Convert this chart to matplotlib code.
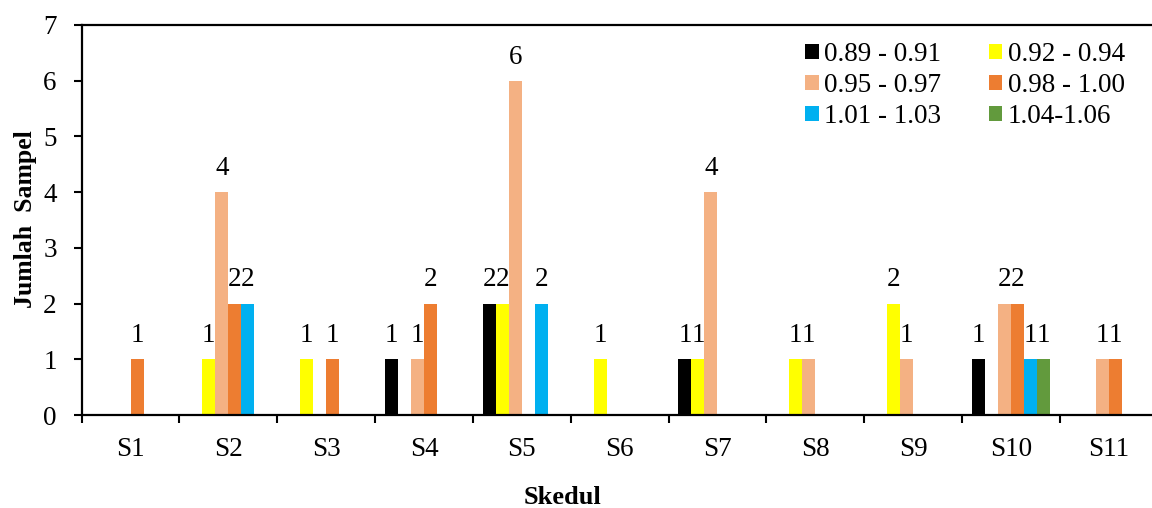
import matplotlib.pyplot as plt
import numpy as np

plt.rcParams['font.family'] = ['Liberation Serif', 'DejaVu Serif']

categories = ['S1', 'S2', 'S3', 'S4', 'S5', 'S6', 'S7', 'S8', 'S9', 'S10', 'S11']
series_names = ['0.89 - 0.91', '0.92 - 0.94', '0.95 - 0.97',
                '0.98 - 1.00', '1.01 - 1.03', '1.04-1.06']
colors = ['#000000', '#FFFF00', '#F4B183', '#ED7D31', '#00B0F0', '#629A3D']

# jumlah sampel per skedul (0 = tidak ada batang)
s_089 = [0, 0, 0, 1, 2, 0, 1, 0, 0, 1, 0]
s_092 = [0, 1, 1, 0, 2, 1, 1, 1, 2, 0, 0]
s_095 = [0, 4, 0, 1, 6, 0, 4, 1, 1, 2, 1]
s_098 = [1, 2, 1, 2, 0, 0, 0, 0, 0, 2, 1]
s_101 = [0, 2, 0, 0, 2, 0, 0, 0, 0, 1, 0]
s_104 = [0, 0, 0, 0, 0, 0, 0, 0, 0, 1, 0]
series = [s_089, s_092, s_095, s_098, s_101, s_104]

fs = 19.5

fig = plt.figure(figsize=(11.52, 5.08), dpi=100)
ax = fig.add_axes([0.0709, 0.183, 0.934, 0.768])

x = np.arange(len(categories))
w = 0.8 / 6
handles = []
for i, (vals, name, c) in enumerate(zip(series, series_names, colors)):
    pos = x + (i - 2.5) * w
    v = np.array(vals, dtype=float)
    bars = ax.bar(pos, v, width=w, color=c, label=name, linewidth=0)
    handles.append(bars)
    for xp, val in zip(pos, vals):
        if val > 0:
            ax.annotate(str(val), (xp, val), xytext=(0, 17), textcoords='offset points',
                        ha='center', va='center', fontsize=fs)

ax.set_xlim(-0.5, len(categories) - 0.5)
ax.set_ylim(0, 7)
ax.set_yticks(range(8))
ax.set_xticks(x)
ax.set_xticklabels(categories)
ax.set_xticks(np.arange(-0.5, len(categories)), minor=True)
ax.tick_params(axis='x', which='major', length=0, pad=16, labelsize=fs)
ax.tick_params(axis='x', which='minor', length=6, width=1.5, direction='out')
ax.tick_params(axis='y', length=6, width=1.5, direction='out', pad=12, labelsize=fs)

ax.spines['right'].set_visible(False)
for s in ['left', 'bottom', 'top']:
    ax.spines[s].set_linewidth(1.6)

fig.text(0.022, 0.569, 'Jumlah  Sampel', rotation=90, ha='center', va='center',
         fontsize=18.5, fontweight='bold')
fig.text(0.488, 0.007, 'Skedul', ha='center', va='baseline',
         fontsize=19, fontweight='bold')

order = [0, 2, 4, 1, 3, 5]
ax.legend([handles[i] for i in order], [series_names[i] for i in order],
          ncol=2, loc='upper left', bbox_to_anchor=(0.699, 0.917),
          bbox_transform=fig.transFigure, frameon=False, fontsize=fs,
          handlelength=0.5, handleheight=0.5, handletextpad=0.2,
          columnspacing=1.75, labelspacing=0.22, borderpad=0, borderaxespad=0)

fig.savefig('out.png', dpi=100)
